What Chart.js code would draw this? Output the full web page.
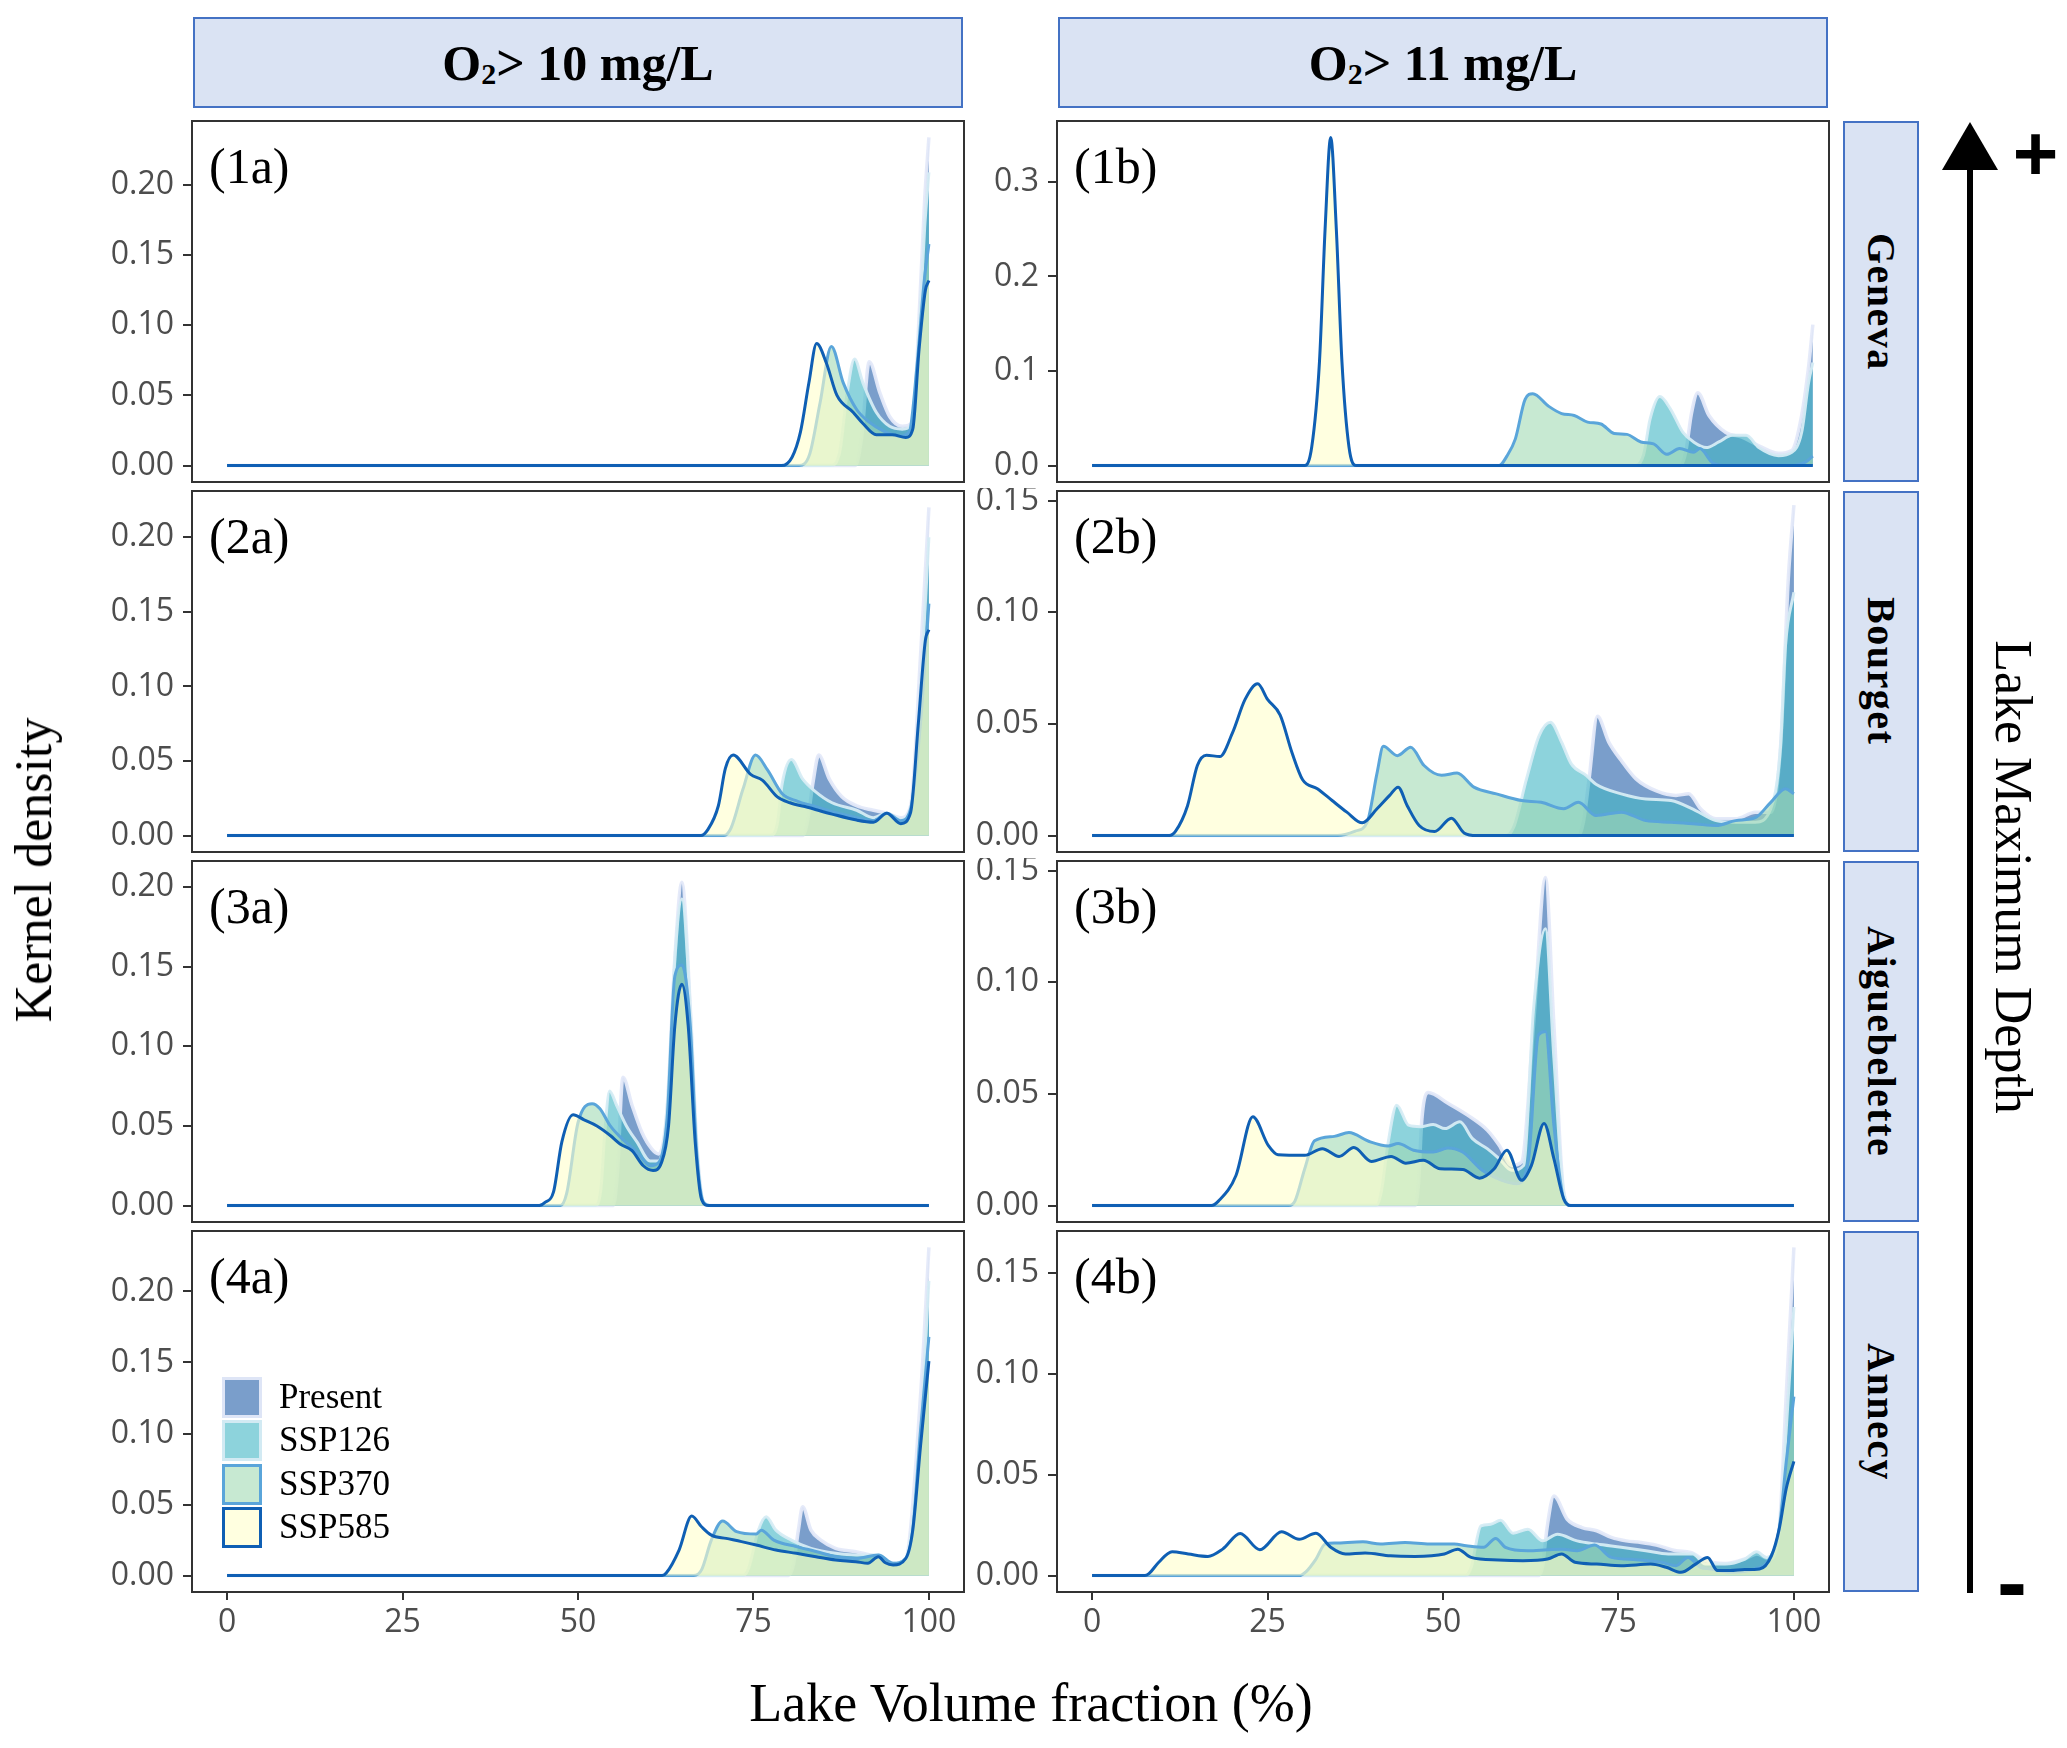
<!DOCTYPE html>
<html><head><meta charset="utf-8">
<script src="https://cdn.jsdelivr.net/npm/chart.js"></script>
<style>
html,body{margin:0;padding:0;background:#fff;}
body{width:2067px;height:1748px;position:relative;overflow:hidden;}
.hdr{position:absolute;background:#DAE3F3;border:2px solid #4472C4;box-sizing:border-box;display:flex;align-items:center;justify-content:center;font:bold 50px 'Liberation Serif',serif;color:#000;white-space:pre;}
.hdr .sub{font-size:30px;position:relative;top:11px;}
.strip{position:absolute;background:#DAE3F3;border:2px solid #4472C4;box-sizing:border-box;display:flex;align-items:center;justify-content:center;}
.strip span{writing-mode:vertical-rl;font:bold 40px 'Liberation Serif',serif;letter-spacing:1.5px;color:#000;}
.plab{position:absolute;font:50px 'Liberation Serif',serif;line-height:1;color:#000;}
.lkey{position:absolute;width:40px;height:41px;box-sizing:border-box;border:3px solid;}
.ltxt{position:absolute;font:35px 'Liberation Serif',serif;line-height:1;color:#000;}
.ttl{position:absolute;font:52px 'Liberation Serif',serif;color:#000;white-space:nowrap;line-height:1;}
canvas{position:absolute;}
</style></head><body>
<div id="root"></div>
<script>
// ---------------- DATA ----------------
const facetCols = ['O2> 10 mg/L', 'O2> 11 mg/L'];
const lakes = ['Geneva', 'Bourget', 'Aiguebelette', 'Annecy'];
const scenarios = ['Present', 'SSP126', 'SSP370', 'SSP585'];
const xTickValues = [0, 25, 50, 75, 100];
const xTickLabels = ['0', '25', '50', '75', '100'];
const yTicks20 = [0, 0.05, 0.10, 0.15, 0.20];
const yTicks20Labels = ['0.00', '0.05', '0.10', '0.15', '0.20'];
const yTicks15 = [0, 0.05, 0.10, 0.15];
const yTicks15Labels = ['0.00', '0.05', '0.10', '0.15'];
const yTicks30 = [0, 0.1, 0.2, 0.3];
const yTicks30Labels = ['0.0', '0.1', '0.2', '0.3'];

// (1a) Geneva, O2 > 10
const d1a_present = [[0,0],[89.5,0],[90.4,0.02],[91.5,0.074],[93.0,0.052],[94.4,0.035],[96.2,0.028],[97.7,0.031],[98.6,0.106],[99.4,0.19],[100,0.234]];
const d1a_ssp126 = [[0,0],[86,0],[87.3,0.01],[88.3,0.05],[89.4,0.076],[90.6,0.059],[92.5,0.038],[94.4,0.028],[96.2,0.026],[97.7,0.031],[98.6,0.095],[99.4,0.17],[100,0.209]];
const d1a_ssp370 = [[0,0],[81.5,0],[83,0.008],[84.5,0.045],[86.1,0.085],[87.8,0.059],[89.7,0.040],[91.5,0.031],[93.4,0.025],[95.8,0.021],[97.2,0.024],[98.3,0.071],[99.3,0.13],[100,0.158]];
const d1a_ssp585 = [[0,0],[79,0],[80.5,0.006],[81.7,0.024],[82.9,0.059],[84.0,0.087],[85.4,0.073],[86.9,0.050],[89.2,0.038],[90.6,0.030],[92.5,0.022],[94.8,0.022],[96.7,0.020],[97.7,0.026],[98.6,0.083],[99.5,0.125],[100,0.132]];
// (1b) Geneva, O2 > 11 (data reach slightly beyond 100)
const d1b_present = [[0,0],[83.8,0],[84.6,0.015],[85.4,0.055],[86.3,0.077],[87.9,0.053],[90.3,0.035],[92.6,0.030],[95.0,0.021],[97.8,0.013],[99.7,0.016],[101.1,0.053],[102.1,0.105],[102.7,0.149]];
const d1b_ssp126 = [[0,0],[77.5,0],[78.6,0.012],[79.5,0.049],[80.9,0.073],[82.4,0.060],[84.2,0.035],[85.7,0.025],[87.5,0.019],[89.3,0.025],[91.2,0.032],[93.2,0.032],[95.0,0.019],[97.8,0.0105],[99.7,0.014],[101.1,0.035],[102.1,0.088],[102.7,0.109]];
const d1b_ssp370 = [[0,0],[58.0,0],[59.1,0.01],[60.3,0.028],[61.7,0.070],[62.8,0.076],[65.0,0.063],[66.9,0.055],[68.7,0.053],[70.6,0.046],[72.5,0.044],[74.4,0.034],[76.2,0.033],[78.2,0.025],[80.0,0.023],[81.9,0.012],[83.7,0.018],[85.7,0.014],[86.6,0.018],[88.4,0.003],[90.4,0],[99.6,0],[101.7,0.004],[102.7,0.01]];
const d1b_ssp585 = [[0,0],[30.3,0],[31.3,0.02],[32.4,0.11],[33.2,0.25],[34.0,0.347],[34.8,0.25],[35.6,0.11],[36.6,0.02],[37.6,0],[102.7,0]];
// (2a) Bourget, O2 > 10
const d2a_present = [[0,0],[82.0,0],[82.7,0.01],[83.5,0.036],[84.3,0.054],[85.8,0.038],[87.6,0.026],[89.7,0.020],[92.1,0.017],[94.0,0.015],[96.0,0.012],[97.4,0.020],[98.8,0.12],[100,0.22]];
const d2a_ssp126 = [[0,0],[77.4,0],[78.4,0.008],[79.1,0.035],[80.4,0.051],[82.0,0.038],[83.7,0.030],[86.2,0.022],[89.7,0.017],[92.1,0.012],[94.0,0.015],[96.0,0.011],[97.4,0.018],[98.8,0.098],[100,0.20]];
const d2a_ssp370 = [[0,0],[70.8,0],[71.8,0.005],[73.5,0.031],[75.3,0.054],[77.0,0.044],[79.1,0.028],[81.3,0.023],[83.4,0.020],[86.2,0.016],[89.7,0.012],[92.1,0.010],[94.0,0.015],[96.0,0.010],[97.4,0.018],[98.8,0.075],[100,0.1555]];
const d2a_ssp585 = [[0,0],[67.5,0],[68.5,0.004],[70.0,0.020],[71.0,0.045],[72.1,0.054],[74.6,0.041],[76.3,0.037],[78.4,0.026],[80.2,0.022],[82.7,0.019],[86.2,0.0144],[89.7,0.0104],[92.1,0.009],[94.0,0.015],[96.0,0.008],[97.4,0.0156],[98.5,0.0755],[99.5,0.131],[100,0.138]];
// (2b) Bourget, O2 > 11
const d2b_present = [[0,0],[69.3,0],[70.0,0.006],[70.8,0.025],[72.0,0.0535],[73.6,0.042],[75.4,0.0336],[77.5,0.0254],[80.4,0.020],[83.2,0.018],[85.0,0.0187],[86.7,0.012],[88.9,0.0075],[91.7,0.0075],[94.5,0.0105],[96.7,0.0105],[98.1,0.040],[99.2,0.115],[100,0.148]];
const d2b_ssp126 = [[0,0],[59,0],[60.1,0.004],[61.9,0.0254],[63.7,0.0448],[65.3,0.0508],[66.9,0.0418],[68.3,0.032],[70.4,0.027],[71.8,0.023],[75.4,0.0187],[78.9,0.0164],[82.5,0.0157],[86.0,0.0112],[88.9,0.0067],[91.7,0.006],[94.5,0.006],[96.7,0.012],[98.1,0.040],[98.8,0.085],[100,0.109]];
const d2b_ssp370 = [[0,0],[35,0],[37.5,0.002],[39.2,0.006],[40.6,0.028],[41.5,0.040],[43.5,0.0358],[45.4,0.0396],[47.3,0.0314],[49.8,0.027],[52.0,0.028],[54.4,0.0217],[57.6,0.0187],[61.2,0.0157],[64.0,0.0149],[67.2,0.012],[69.3,0.0149],[71.8,0.009],[75.4,0.0105],[78.9,0.0067],[82.5,0.006],[86.0,0.0052],[88.9,0.0045],[91.7,0.0067],[94.5,0.008],[96.7,0.0149],[98.8,0.021],[100,0.0187]];
const d2b_ssp585 = [[0,0],[11,0],[11.9,0.002],[13.6,0.0134],[15.0,0.0314],[16.3,0.036],[18.2,0.0354],[20.0,0.046],[21.8,0.061],[23.6,0.068],[25.0,0.061],[26.8,0.054],[28.5,0.037],[30.0,0.025],[32.1,0.021],[34.2,0.0157],[36.3,0.0105],[38.5,0.0057],[40.6,0.012],[42.4,0.018],[43.6,0.0217],[44.9,0.0134],[46.6,0.0045],[48.8,0.0018],[51.2,0.0078],[53.0,0.0012],[54.8,0],[100,0]];
// (3a) Aiguebelette, O2 > 10
const d3a_present = [[0,0],[55.0,0],[55.6,0.02],[56.4,0.0806],[57.7,0.063],[59.1,0.046],[60.5,0.0356],[61.5,0.0324],[62.7,0.061],[63.8,0.155],[64.8,0.203],[66.0,0.124],[66.9,0.04],[67.9,0.002],[69,0],[100,0]];
const d3a_ssp126 = [[0,0],[52.5,0],[53.3,0.012],[53.8,0.045],[54.5,0.072],[55.5,0.063],[56.9,0.050],[58.4,0.040],[60.3,0.028],[61.5,0.028],[62.7,0.061],[63.8,0.155],[64.8,0.1925],[66.0,0.124],[66.9,0.04],[67.9,0.002],[69,0],[100,0]];
const d3a_ssp370 = [[0,0],[47.5,0],[48.4,0.008],[50.0,0.052],[52.0,0.064],[53.1,0.061],[54.6,0.050],[56.5,0.041],[58.4,0.0335],[60.3,0.025],[61.5,0.027],[62.7,0.055],[63.8,0.144],[64.8,0.151],[66.0,0.113],[66.9,0.034],[67.9,0.002],[69,0],[100,0]];
const d3a_ssp585 = [[0,0],[44.5,0],[45.3,0.002],[46.5,0.0084],[47.7,0.040],[49.3,0.057],[50.8,0.054],[52.7,0.050],[54.6,0.044],[56.0,0.0387],[57.7,0.0345],[59.3,0.025],[60.7,0.022],[61.9,0.027],[62.9,0.050],[63.8,0.113],[64.8,0.139],[65.7,0.113],[66.7,0.040],[67.6,0.004],[68.6,0],[100,0]];
// (3b) Aiguebelette, O2 > 11
const d3b_present = [[0,0],[46,0],[46.5,0.01],[47.0,0.039],[47.9,0.0506],[50.7,0.0458],[53.5,0.0405],[56.3,0.0338],[58.0,0.027],[59.8,0.018],[61.2,0.0195],[62.9,0.081],[64.6,0.147],[65.8,0.081],[67.2,0.006],[68.2,0],[100,0]];
const d3b_ssp126 = [[0,0],[40.5,0],[41.2,0.006],[42.2,0.0285],[43.4,0.045],[45.1,0.036],[46.8,0.0353],[48.6,0.0363],[50.3,0.0345],[52.4,0.0375],[54.2,0.030],[56.3,0.0255],[58.0,0.021],[59.8,0.0158],[61.5,0.018],[62.9,0.088],[64.6,0.124],[65.8,0.066],[67.2,0.006],[68.2,0],[100,0]];
const d3b_ssp370 = [[0,0],[28,0],[28.9,0.002],[30.3,0.0165],[31.7,0.029],[34.5,0.031],[36.6,0.0327],[39.4,0.0288],[42.2,0.0267],[43.6,0.0278],[45.8,0.0248],[48.6,0.024],[50.7,0.0258],[52.8,0.024],[55.6,0.0158],[58.4,0.0113],[60.5,0.0098],[62.2,0.021],[63.6,0.0765],[64.6,0.078],[65.8,0.036],[67.2,0.003],[68.2,0],[100,0]];
const d3b_ssp585 = [[0,0],[17,0],[18.0,0.002],[20.5,0.0135],[22.9,0.0398],[25.1,0.027],[26.5,0.0228],[30.3,0.0225],[32.8,0.0255],[35.2,0.022],[37.3,0.026],[39.8,0.0198],[42.6,0.022],[44.7,0.019],[47.2,0.0203],[49.6,0.0165],[52.8,0.0162],[55.2,0.0123],[57.3,0.0165],[59.1,0.0248],[61.2,0.0113],[62.6,0.018],[64.4,0.0368],[65.8,0.021],[67.2,0.003],[68.2,0],[100,0]];
// (4a) Annecy, O2 > 10
const d4a_present = [[0,0],[80.0,0],[80.7,0.008],[81.4,0.032],[82.0,0.0484],[83.2,0.032],[84.6,0.025],[86.7,0.0192],[89.6,0.0168],[91.7,0.0145],[93.0,0.0133],[94.9,0.0087],[96.7,0.012],[98.8,0.126],[100,0.231]];
const d4a_ssp126 = [[0,0],[73.5,0],[74.3,0.005],[75.7,0.032],[76.8,0.0414],[78.2,0.032],[80.4,0.025],[83.2,0.0192],[86.7,0.0157],[89.6,0.0145],[92.8,0.0145],[94.9,0.0087],[96.7,0.012],[98.8,0.102],[100,0.2075]];
const d4a_ssp370 = [[0,0],[66.5,0],[67.6,0.004],[69.0,0.025],[70.6,0.0384],[72.6,0.0309],[75.4,0.0292],[76.1,0.032],[77.9,0.025],[81.1,0.0204],[83.9,0.017],[86.7,0.0133],[89.6,0.012],[92.8,0.0145],[94.9,0.0087],[96.7,0.012],[97.7,0.032],[98.8,0.102],[100,0.168]];
const d4a_ssp585 = [[0,0],[62,0],[62.6,0.002],[64.4,0.018],[66.2,0.0419],[67.6,0.0344],[69.0,0.0285],[71.1,0.0262],[73.3,0.0239],[75.4,0.0215],[78.2,0.018],[81.1,0.0157],[83.9,0.0133],[86.7,0.011],[89.6,0.0098],[91.3,0.0087],[92.8,0.0133],[93.8,0.009],[94.9,0.0075],[96.7,0.012],[97.7,0.032],[98.8,0.091],[100,0.151]];
// (4b) Annecy, O2 > 11
const d4b_present = [[0,0],[63.6,0],[64.2,0.005],[64.8,0.023],[65.8,0.0394],[67.7,0.0279],[69.8,0.0238],[71.9,0.0222],[74.0,0.0189],[76.1,0.0172],[78.2,0.0164],[80.4,0.0151],[83.2,0.0123],[85.3,0.0115],[87.4,0.0074],[90.2,0.006],[93.0,0.0082],[94.7,0.0107],[96.5,0.0082],[97.9,0.023],[98.9,0.089],[100,0.1625]];
const d4b_ssp126 = [[0,0],[53.2,0],[54.0,0.004],[55.4,0.0246],[56.8,0.0254],[58.2,0.0274],[60.0,0.021],[62.1,0.023],[64.2,0.0172],[66.3,0.0205],[69.1,0.0172],[71.9,0.0156],[75.4,0.014],[78.9,0.0123],[82.1,0.0107],[85.6,0.0107],[87.4,0.0057],[90.2,0.0057],[93.0,0.0082],[94.7,0.0118],[96.1,0.009],[97.9,0.023],[98.9,0.072],[100,0.133]];
const d4b_ssp370 = [[0,0],[29.5,0],[30.5,0.002],[31.9,0.0082],[33.2,0.0156],[34.7,0.0161],[38.6,0.0167],[41.1,0.0156],[44.6,0.0164],[48.1,0.0156],[51.6,0.0156],[53.3,0.0148],[55.8,0.014],[57.5,0.0184],[58.9,0.014],[62.1,0.0123],[64.9,0.0128],[67.0,0.0131],[69.1,0.0123],[71.6,0.0151],[74.0,0.009],[77.5,0.0079],[81.1,0.0066],[83.2,0.0049],[84.9,0.009],[86.7,0.0041],[88.1,0.0033],[90.9,0.0016],[94.4,0.0033],[96.5,0.0082],[97.9,0.023],[98.9,0.056],[100,0.0886]];
const d4b_ssp585 = [[0,0],[7.5,0],[8.1,0.001],[9.5,0.0066],[11.4,0.0118],[13.7,0.0107],[16.5,0.0095],[18.6,0.0131],[21.1,0.0208],[23.9,0.0128],[27.0,0.0217],[29.5,0.018],[31.9,0.021],[34.0,0.014],[36.1,0.0107],[38.9,0.0112],[42.5,0.0098],[46.0,0.0095],[50.2,0.0107],[52.1,0.0131],[54.0,0.009],[57.9,0.0077],[61.4,0.0074],[64.9,0.0082],[66.9,0.0107],[68.8,0.0066],[71.9,0.0057],[75.4,0.0049],[79.6,0.0057],[81.8,0.0041],[83.9,0.0016],[86.0,0.0057],[87.7,0.009],[89.1,0.0025],[90.9,0.0025],[93.0,0.003],[95.1,0.0033],[96.8,0.0098],[97.9,0.023],[98.9,0.043],[100,0.0566]];

// per-panel maximum density (ggplot expands y range 5% each side of [0, max])
const panelMax = {'1a':0.234,'1b':0.347,'2a':0.22,'2b':0.147,'3a':0.206,'3b':0.147,'4a':0.231,'4b':0.1625};

// ---------------- LAYOUT / STYLE ----------------
const root = document.getElementById('root');
const colLeft = [192, 1057], panelW = 772;
const rowTop = [121, 491, 861, 1231], panelH = 361;
const AXW = 135, AXH = 55, PAD = 3;

const styles = [
  {fill:'rgba(34,94,168,0.6)',  line:'rgba(228,233,249,0.95)', w:3.5, order:3},
  {fill:'rgba(65,182,196,0.6)', line:'rgba(214,236,244,0.95)', w:3,   order:2},
  {fill:'rgba(161,218,180,0.6)',line:'#5aa5da',               w:3,   order:1},
  {fill:'rgba(255,255,204,0.6)',line:'#0f5fb4',               w:3,   order:0}
];

function el(tag, cls, css, html){ const e=document.createElement(tag); if(cls) e.className=cls; Object.assign(e.style, css||{}); if(html!==undefined) e.innerHTML=html; root.appendChild(e); return e; }

facetCols.forEach((t,i)=>{
  const parts = t.split('2');
  el('div','hdr',{left:(colLeft[i]+1)+'px',top:'17px',width:(panelW-2)+'px',height:'91px'}, parts[0]+'<span class="sub">2</span>'+parts[1]);
});
lakes.forEach((t,r)=>{
  const s = el('div','strip',{left:'1843px',top:rowTop[r]+'px',width:'76px',height:panelH+'px'});
  const sp=document.createElement('span'); sp.textContent=t; s.appendChild(sp);
});

const frame = {id:'frame', afterDraw(chart){ const {ctx, chartArea:a}=chart; ctx.save(); ctx.strokeStyle='#333'; ctx.lineWidth=2; ctx.strokeRect(a.left, a.top, a.right-a.left, a.bottom-a.top); ctx.restore(); }};
const zeroPad = s => { s.paddingTop = 0; s.paddingBottom = 0; s.paddingLeft = 0; s.paddingRight = 0; };

const allData = {
  '1a':[d1a_present,d1a_ssp126,d1a_ssp370,d1a_ssp585], '1b':[d1b_present,d1b_ssp126,d1b_ssp370,d1b_ssp585],
  '2a':[d2a_present,d2a_ssp126,d2a_ssp370,d2a_ssp585], '2b':[d2b_present,d2b_ssp126,d2b_ssp370,d2b_ssp585],
  '3a':[d3a_present,d3a_ssp126,d3a_ssp370,d3a_ssp585], '3b':[d3b_present,d3b_ssp126,d3b_ssp370,d3b_ssp585],
  '4a':[d4a_present,d4a_ssp126,d4a_ssp370,d4a_ssp585], '4b':[d4b_present,d4b_ssp126,d4b_ssp370,d4b_ssp585]
};
const yTickSets = {'1a':[yTicks20,yTicks20Labels],'1b':[yTicks30,yTicks30Labels],'2a':[yTicks20,yTicks20Labels],'2b':[yTicks15,yTicks15Labels],
  '3a':[yTicks20,yTicks20Labels],'3b':[yTicks15,yTicks15Labels],'4a':[yTicks20,yTicks20Labels],'4b':[yTicks15,yTicks15Labels]};

Chart.defaults.font.family = "'Open Sans', sans-serif";

for(let r=0;r<4;r++){
  for(let c=0;c<2;c++){
    const id = (r+1)+(c===0?'a':'b');
    const bottomRow = r===3;
    const cv = document.createElement('canvas');
    const W = AXW + panelW + PAD, H = PAD + panelH + (bottomRow?AXH:PAD);
    cv.width=W; cv.height=H;
    cv.style.left=(colLeft[c]-AXW)+'px'; cv.style.top=(rowTop[r]-PAD)+'px';
    cv.style.width=W+'px'; cv.style.height=H+'px';
    root.appendChild(cv);
    const M = panelMax[id];
    const [yt, ytl] = yTickSets[id];
    const datasets = allData[id].map((d,k)=>({
      label: scenarios[k],
      data: d.map(([x,y])=>({x,y})),
      fill:'origin', backgroundColor: styles[k].fill, borderColor: styles[k].line,
      borderWidth: styles[k].w, pointRadius:0, cubicInterpolationMode:'monotone', order: styles[k].order
    }));
    const xScale = {type:'linear', min:-5, max:105, display: bottomRow,
      afterBuildTicks: s=>{ s.ticks = xTickValues.map(v=>({value:v})); },
      ticks:{callback:(v,i)=>xTickLabels[i], font:{size:32}, color:'#4d4d4d', padding:4, maxRotation:0, autoSkip:false},
      grid:{drawOnChartArea:false, drawTicks:true, tickLength:8, color:'#333', lineWidth:2}, border:{display:false}};
    if(bottomRow) xScale.afterFit = s=>{ s.height = AXH; zeroPad(s); };
    new Chart(cv, {
      type:'line',
      data:{datasets},
      options:{
        responsive:false, animation:false, events:[],
        layout:{autoPadding:false, padding:{top:PAD, right:PAD, left:0, bottom: bottomRow?0:PAD}},
        plugins:{legend:{display:false}, tooltip:{enabled:false}},
        scales:{
          x: xScale,
          y:{type:'linear', min:-0.05*M, max:1.05*M,
            afterBuildTicks: s=>{ s.ticks = yt.map(v=>({value:v})); },
            afterFit: s=>{ s.width = AXW; zeroPad(s); },
            ticks:{callback:(v,i)=>ytl[i], font:{size:32}, color:'#4d4d4d', padding:9, autoSkip:false},
            grid:{drawOnChartArea:false, drawTicks:true, tickLength:9, color:'#333', lineWidth:2}, border:{display:false}}
        }
      },
      plugins:[frame]
    });
    el('div','plab',{left:(colLeft[c]+17)+'px', top:(rowTop[r]+20)+'px'}, '('+id+')');
  }
}

// legend inside (4a)
const keyTops = [1377, 1420, 1464, 1507];
scenarios.forEach((s,k)=>{
  el('div','lkey',{left:'222px', top:keyTops[k]+'px', background:styles[k].fill, borderColor:styles[k].line});
  el('div','ltxt',{left:'279px', top:(keyTops[k]+2)+'px'}, s);
});

// axis titles
el('div','ttl',{left:'1031px', top:'1703px', transform:'translate(-50%,-50%)', fontSize:'54px'}, 'Lake Volume fraction (%)');
el('div','ttl',{left:'34px', top:'870px', transform:'translate(-50%,-50%) rotate(-90deg)'}, 'Kernel density');
el('div','ttl',{left:'2013px', top:'877px', transform:'translate(-50%,-50%)', writingMode:'vertical-rl'}, 'Lake Maximum Depth');

// depth arrow
el('div','',{position:'absolute', left:'1942px', top:'122px', width:'56px', height:'48px', background:'#000', clipPath:'polygon(50% 0, 100% 100%, 0 100%)'});
el('div','',{position:'absolute', left:'1967px', top:'168px', width:'6px', height:'1425px', background:'#000'});
el('div','',{position:'absolute', left:'2012px', top:'114px', width:'47px', font:"bold 78px 'Liberation Sans',sans-serif", lineHeight:'1', textAlign:'center'}, '+');
el('div','',{position:'absolute', left:'1997px', top:'1537px', width:'30px', font:"bold 90px 'Liberation Sans',sans-serif", lineHeight:'1', textAlign:'center'}, '-');
</script>
</body></html>
